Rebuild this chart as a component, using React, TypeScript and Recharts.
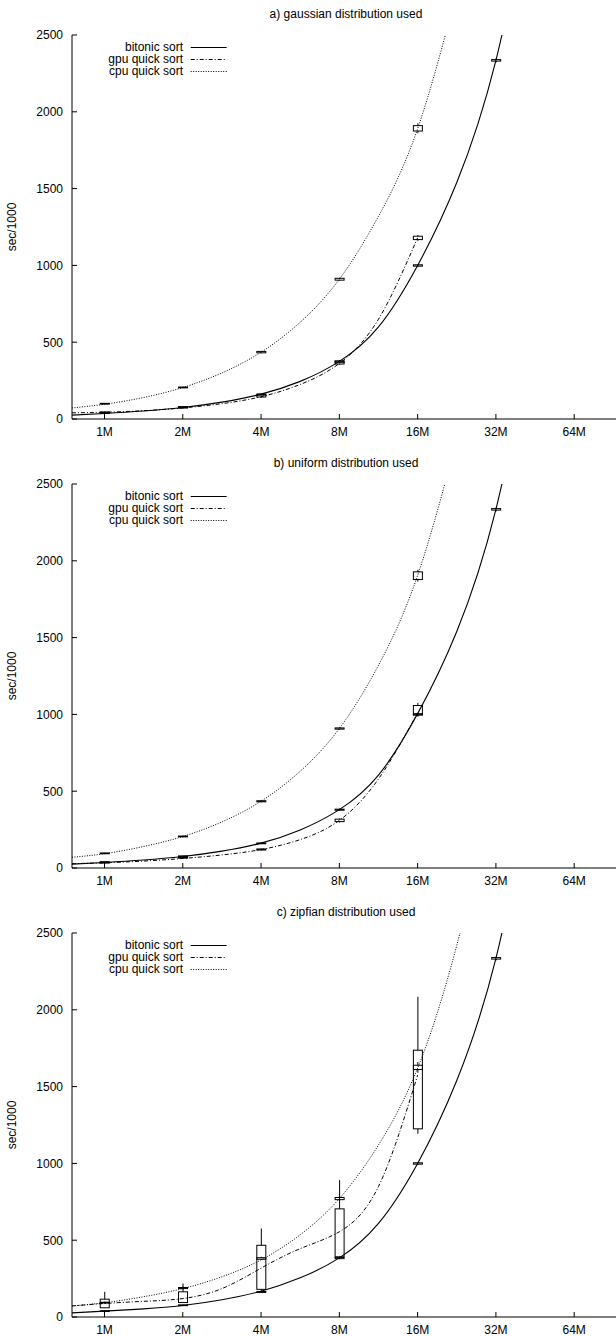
import React from 'react';
import { ComposedChart, Line, Bar, XAxis, YAxis, Legend } from 'recharts';

// x is log2 of the input size in millions: 0 = 1M, 1 = 2M ... 6 = 64M
const CURVE_X = [-0.415, 0, 0.5, 1, 1.5, 2, 2.5, 3, 3.5, 4, 4.5, 5, 5.5];
const X_TICKS = [0, 1, 2, 3, 4, 5, 6];
const X_LABELS = ['1M', '2M', '4M', '8M', '16M', '32M', '64M'];
const X_DOMAIN: [number, number] = [-0.415, 6.585];
const Y_TICKS = [0, 500, 1000, 1500, 2000, 2500];
const Y_DOMAIN: [number, number] = [0, 2500];

const TITLES = [
  'a) gaussian distribution used',
  'b) uniform distribution used',
  'c) zipfian distribution used',
];
const SERIES_NAMES = ['bitonic sort', 'gpu quick sort', 'cpu quick sort'];
const DASHES = ['', '4 2 1 2', '1 1.5'];

// fitted curves (sec/1000) read at CURVE_X
const gaussBitonicFit = [25, 36, 52, 75, 110, 162, 245, 375, 600, 1000, 1540, 2335, 3550];
const gaussGpuFit = [40, 44, 54, 72, 100, 145, 225, 362, 650, 1180, null, null, null];
const gaussCpuFit = [72, 96, 140, 205, 300, 435, 630, 910, 1320, 1890, 2780, null, null];

const uniformBitonicFit = [25, 36, 52, 75, 110, 162, 248, 380, 605, 1005, 1540, 2335, 3550];
const uniformGpuFit = [28, 34, 45, 62, 85, 120, 185, 310, 580, 1010, null, null, null];
const uniformCpuFit = [70, 93, 140, 205, 300, 435, 630, 908, 1320, 1905, 2790, null, null];

const zipfBitonicFit = [27, 38, 53, 75, 112, 168, 255, 385, 610, 1000, 1540, 2335, 3550];
const zipfGpuFit = [72, 88, 102, 120, 185, 318, 445, 555, 850, 1575, null, null, null];
const zipfCpuFit = [72, 93, 132, 185, 262, 372, 535, 771, 1120, 1620, 2420, 3500, null];

// measured runs at 1M..32M: [min, q1, q3, max]
type Box = [number, number, number, number] | null;

const gaussBitonicBox: Box[] = [[35, 37, 41, 43], [73, 75, 79, 81], [155, 158, 163, 166], [366, 369, 377, 380], [990, 995, 1004, 1008], [2322, 2330, 2340, 2348]];
const gaussGpuBox: Box[] = [[36, 38, 46, 49], [70, 72, 80, 83], [140, 143, 156, 160], [352, 358, 378, 384], [1160, 1168, 1190, 1198], null];
const gaussCpuBox: Box[] = [[95, 97, 102, 104], [200, 203, 208, 211], [428, 431, 440, 443], [900, 904, 916, 920], [1860, 1875, 1910, 1925], null];

const uniformBitonicBox: Box[] = [[35, 37, 41, 43], [73, 75, 79, 81], [155, 158, 163, 166], [372, 376, 383, 387], [992, 997, 1005, 1010], [2322, 2330, 2340, 2348]];
const uniformGpuBox: Box[] = [[30, 32, 38, 40], [62, 64, 70, 72], [114, 117, 124, 127], [296, 302, 318, 323], [985, 996, 1058, 1075], null];
const uniformCpuBox: Box[] = [[91, 93, 98, 100], [200, 203, 208, 211], [428, 431, 438, 441], [900, 904, 912, 916], [1865, 1878, 1928, 1942], null];

const zipfBitonicBox: Box[] = [[35, 37, 41, 43], [73, 75, 79, 81], [157, 160, 166, 169], [376, 380, 388, 392], [990, 995, 1004, 1008], [2322, 2330, 2340, 2348]];
const zipfGpuBox: Box[] = [[58, 60, 116, 164], [92, 94, 164, 218], [170, 180, 467, 576], [380, 392, 704, 891], [1193, 1225, 1737, 2085], null];
const zipfCpuBox: Box[] = [[88, 91, 96, 100], [180, 185, 192, 198], [372, 376, 386, 392], [758, 764, 778, 786], [1590, 1611, 1639, 1660], null];

const FONT = '"Liberation Sans", Arial, Helvetica, sans-serif';
const PANEL_W = 630;
const PANEL_H = 449;
const BOX_W = 9;

function buildRows(fits: (number | null)[][], boxes: Box[][]) {
  return CURVE_X.map((x, i) => {
    const k = Number.isInteger(x) ? x : -1;
    const pick = (b: Box[]) => (k >= 0 && k < b.length ? b[k] : null);
    return {
      x,
      bitonic: fits[0][i],
      gpu: fits[1][i],
      cpu: fits[2][i],
      bitonicBox: pick(boxes[0]),
      gpuBox: pick(boxes[1]),
      cpuBox: pick(boxes[2]),
    };
  });
}

const PANELS = [
  buildRows([gaussBitonicFit, gaussGpuFit, gaussCpuFit], [gaussBitonicBox, gaussGpuBox, gaussCpuBox]),
  buildRows([uniformBitonicFit, uniformGpuFit, uniformCpuFit], [uniformBitonicBox, uniformGpuBox, uniformCpuBox]),
  buildRows([zipfBitonicFit, zipfGpuFit, zipfCpuFit], [zipfBitonicBox, zipfGpuBox, zipfCpuBox]),
];

// range keys for the candle bars (whisker min..max)
const bitonicRange = (d: any) => (d.bitonicBox ? [d.bitonicBox[0], d.bitonicBox[3]] : null);
const gpuRange = (d: any) => (d.gpuBox ? [d.gpuBox[0], d.gpuBox[3]] : null);
const cpuRange = (d: any) => (d.cpuBox ? [d.cpuBox[0], d.cpuBox[3]] : null);

function candle(key: string) {
  return function CandleShape(props: any) {
    const { x, y, width, height, payload } = props;
    const box = payload && payload[key];
    if (!box || !Number.isFinite(y) || !Number.isFinite(height)) return null;
    const [lo, q1, q3, hi] = box;
    const yTop = Math.min(y, y + height);
    const yBot = Math.max(y, y + height);
    const py = (v: number) => (hi === lo ? yTop : yTop + ((yBot - yTop) * (hi - v)) / (hi - lo));
    const cx = x + width / 2;
    return (
      <g stroke="#000" strokeWidth={1} fill="none">
        <line x1={cx} x2={cx} y1={py(hi)} y2={py(q3)} />
        <line x1={cx} x2={cx} y1={py(q1)} y2={py(lo)} />
        <rect x={x} y={py(q3)} width={width} height={Math.max(py(q1) - py(q3), 0.8)} />
      </g>
    );
  };
}
const bitonicShape = candle('bitonicBox');
const gpuShape = candle('gpuBox');
const cpuShape = candle('cpuBox');

// gnuplot-style ticks: pointing into the plot on all four sides
const TICK_LEN = 5;

function BottomTick(props: any) {
  const { x, y, payload } = props;
  const label = X_LABELS[X_TICKS.indexOf(payload.value)];
  return (
    <g>
      <line x1={x} x2={x} y1={y} y2={y - TICK_LEN} stroke="#000" />
      <text x={x} y={y + 17} textAnchor="middle" fontSize={12} fontFamily={FONT} fill="#000">
        {label}
      </text>
    </g>
  );
}

function TopTick(props: any) {
  const { x, y } = props;
  return <line x1={x} x2={x} y1={y} y2={y + TICK_LEN} stroke="#000" />;
}

function LeftTick(props: any) {
  const { x, y, payload } = props;
  return (
    <g>
      <line x1={x} x2={x + TICK_LEN} y1={y} y2={y} stroke="#000" />
      <text x={x - 9} y={y + 4.3} textAnchor="end" fontSize={12} fontFamily={FONT} fill="#000">
        {payload.value}
      </text>
    </g>
  );
}

function RightTick(props: any) {
  const { x, y } = props;
  return <line x1={x - TICK_LEN} x2={x} y1={y} y2={y} stroke="#000" />;
}

function YLabel(props: any) {
  const vb = props.viewBox || { x: 0, y: 35, width: 72, height: 384 };
  const lx = vb.x + 16;
  const ly = vb.y + vb.height / 2;
  return (
    <text x={lx} y={ly} transform={`rotate(-90 ${lx} ${ly})`} textAnchor="middle" fontSize={12} fontFamily={FONT} fill="#000">
      sec/1000
    </text>
  );
}

function LegendBox() {
  return (
    <div style={{ fontFamily: FONT, fontSize: 12, color: '#000' }}>
      {SERIES_NAMES.map((name, i) => (
        <div key={name} style={{ display: 'flex', alignItems: 'center', height: 12 }}>
          <span style={{ width: 120, textAlign: 'right', lineHeight: '12px', whiteSpace: 'nowrap' }}>{name}</span>
          <svg width={46} height={12} style={{ display: 'block' }}>
            <line x1={7.7} x2={43.7} y1={6.5} y2={6.5} stroke="#000" strokeWidth={1} strokeDasharray={DASHES[i] || undefined} />
          </svg>
        </div>
      ))}
    </div>
  );
}

function Panel({ index }: { index: number }) {
  const rows = PANELS[index];
  return (
    <div style={{ position: 'absolute', left: 0, top: index * PANEL_H, width: PANEL_W, height: PANEL_H }}>
      <div
        style={{
          position: 'absolute',
          left: 72,
          width: 548,
          top: 7,
          textAlign: 'center',
          fontSize: 12,
          lineHeight: '14px',
          fontFamily: FONT,
          color: '#000',
        }}
      >
        {TITLES[index]}
      </div>
      <ComposedChart
        width={PANEL_W}
        height={PANEL_H}
        data={rows}
        margin={{ top: 35, right: 10, bottom: 0, left: 0 }}
        barGap={-BOX_W}
        barSize={BOX_W}
      >
        <XAxis
          xAxisId="bottom"
          dataKey="x"
          type="number"
          domain={X_DOMAIN}
          allowDataOverflow
          ticks={X_TICKS}
          interval={0}
          height={30}
          tickSize={0}
          tickMargin={0}
          tickLine={false}
          axisLine={{ stroke: '#000' }}
          tick={BottomTick}
        />
        <XAxis
          xAxisId="top"
          orientation="top"
          dataKey="x"
          type="number"
          domain={X_DOMAIN}
          allowDataOverflow
          ticks={X_TICKS}
          interval={0}
          height={0}
          tickSize={0}
          tickMargin={0}
          tickLine={false}
          axisLine={{ stroke: '#000' }}
          tick={TopTick}
        />
        <YAxis
          yAxisId="left"
          type="number"
          domain={Y_DOMAIN}
          allowDataOverflow
          ticks={Y_TICKS}
          interval={0}
          width={72}
          tickSize={0}
          tickMargin={0}
          tickLine={false}
          axisLine={{ stroke: '#000' }}
          tick={LeftTick}
          label={YLabel}
        />
        <YAxis
          yAxisId="right"
          orientation="right"
          type="number"
          domain={Y_DOMAIN}
          allowDataOverflow
          ticks={Y_TICKS}
          interval={0}
          width={0}
          tickSize={0}
          tickMargin={0}
          tickLine={false}
          axisLine={{ stroke: '#000' }}
          tick={RightTick}
        />
        <Legend
          layout="vertical"
          align="center"
          verticalAlign="middle"
          content={() => <LegendBox />}
          wrapperStyle={{ top: 41, left: 63, width: 170, height: 36 }}
        />
        <Bar xAxisId="bottom" yAxisId="left" dataKey={bitonicRange} barSize={BOX_W} shape={bitonicShape} legendType="none" isAnimationActive={false} />
        <Bar xAxisId="bottom" yAxisId="left" dataKey={gpuRange} barSize={BOX_W} shape={gpuShape} legendType="none" isAnimationActive={false} />
        <Bar xAxisId="bottom" yAxisId="left" dataKey={cpuRange} barSize={BOX_W} shape={cpuShape} legendType="none" isAnimationActive={false} />
        <Line xAxisId="bottom" yAxisId="left" dataKey="bitonic" name={SERIES_NAMES[0]} type="natural" stroke="#000" strokeWidth={1.1} dot={false} activeDot={false} isAnimationActive={false} />
        <Line xAxisId="bottom" yAxisId="left" dataKey="gpu" name={SERIES_NAMES[1]} type="natural" stroke="#000" strokeWidth={1} strokeDasharray={DASHES[1]} dot={false} activeDot={false} isAnimationActive={false} />
        <Line xAxisId="bottom" yAxisId="left" dataKey="cpu" name={SERIES_NAMES[2]} type="natural" stroke="#000" strokeWidth={1} strokeDasharray={DASHES[2]} dot={false} activeDot={false} isAnimationActive={false} />
      </ComposedChart>
    </div>
  );
}

export default function App() {
  return (
    <div
      style={{
        position: 'absolute',
        left: 0,
        top: 0,
        width: 616,
        height: 1336,
        overflow: 'hidden',
        background: '#fff',
        fontFamily: FONT,
      }}
    >
      <Panel index={0} />
      <Panel index={1} />
      <Panel index={2} />
    </div>
  );
}
